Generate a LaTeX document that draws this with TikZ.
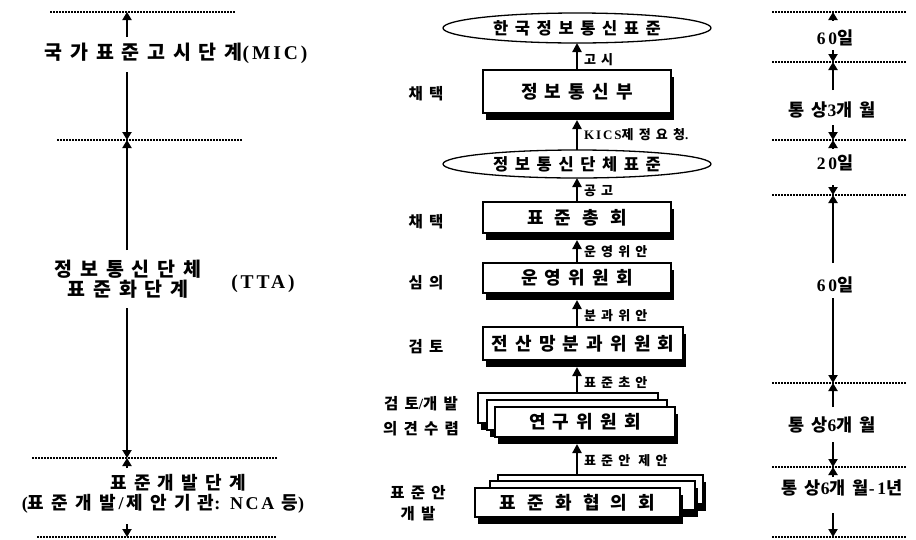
\documentclass[tikz,border=0pt]{standalone}
\usepackage{fontspec}
\setmainfont{Liberation Serif}
\newfontfamily\kr{Noto Sans CJK KR}[LetterSpace=40]
\newfontfamily\krw{Noto Sans CJK KR}[LetterSpace=62]
\newfontfamily\krn{Noto Sans CJK KR}[LetterSpace=10]
\newfontfamily\lt{Liberation Serif}[LetterSpace=15]
\usetikzlibrary{arrows.meta,shadows,shapes.geometric}
\begin{document}
\begin{tikzpicture}[x=1pt,y=-1pt,
  every node/.style={inner sep=0pt,outer sep=0pt},
  dotline/.style={line width=1.8pt,dash pattern=on 1.5pt off 1.5pt},
  dim/.style={line width=2pt,-{Triangle[length=8pt,width=9pt]}},
  flow/.style={line width=2.3pt,-{Triangle[length=9pt,width=9pt]}},
  boxst/.style={draw,line width=1.4pt,fill=white,minimum height=#1,
    drop shadow={shadow xshift=3pt,shadow yshift=-7pt,fill=black,opacity=1}},
  ellst/.style={draw,ellipse,line width=1.3pt,fill=white,minimum width=268,minimum height=#1},
  bigtxt/.style={font=\fontsize{19.5}{21}\selectfont\bfseries},
  lowtxt/.style={font=\fontsize{18}{19}\selectfont\bfseries},
  boxtxt/.style={font=\fontsize{18}{19}\selectfont\bfseries},
  elltxt/.style={font=\fontsize{16.5}{18}\selectfont\bfseries},
  sidetxt/.style={font=\fontsize{15.5}{17}\selectfont\bfseries,align=center},
  flowlab/.style={font=\fontsize{13}{14}\selectfont\bfseries,anchor=west},
  rtxt/.style={font=\fontsize{17.5}{19}\selectfont\bfseries}
]
\useasboundingbox (0,0) rectangle (916,539);

% ---------------- left column ----------------
\coordinate (l1w) at (50,12);  \coordinate (l1e) at (235,12);
\coordinate (l2w) at (57,140); \coordinate (l2e) at (243,140);
\coordinate (l3w) at (32,458); \coordinate (l3e) at (277,458);
\coordinate (l4w) at (37,537); \coordinate (l4e) at (277,537);
\foreach \n in {l1,l2,l3,l4} \draw[dotline] (\n w) -- (\n e);

\node[bigtxt] (t1) at (176,53) {{\kr 국가표준고시단계}{\lt (MIC)}};
\node[bigtxt,align=center] (t2) at (128,279) {{\kr 정보통신단체}\\[-1pt]{\kr 표준화단계}};
\node[bigtxt] (t2b) at (263,284) {{\lt (TTA)}};
\node[lowtxt] (t3) at (178,483) {{\kr 표준개발단계}};
\node[lowtxt] (t3b) at (163,504) {{\lt (}{\kr 표준개발}{\lt\,/\,}{\kr 제안기관}{\lt : NCA }{\kr 등}{\lt )}};

\coordinate (la1) at (127,37);  \coordinate (la1t) at (127,12);
\coordinate (la2) at (127,72);  \coordinate (la2t) at (127,140);
\coordinate (la3) at (127,250); \coordinate (la3t) at (127,140);
\coordinate (la4) at (127,308); \coordinate (la4t) at (127,458);
\coordinate (la5) at (127,468); \coordinate (la5t) at (127,458);
\coordinate (la6) at (127,524); \coordinate (la6t) at (127,537);
\foreach \n in {la1,la2,la3,la4,la5,la6} \draw[dim] (\n) -- (\n t);

% ---------------- right column ----------------
\coordinate (r1w) at (772,12);  \coordinate (r1e) at (907,12);
\coordinate (r2w) at (772,62);  \coordinate (r2e) at (907,62);
\coordinate (r3w) at (772,140); \coordinate (r3e) at (907,140);
\coordinate (r4w) at (772,195); \coordinate (r4e) at (907,195);
\coordinate (r5w) at (772,383); \coordinate (r5e) at (907,383);
\coordinate (r6w) at (772,467); \coordinate (r6e) at (907,467);
\coordinate (r7w) at (772,537); \coordinate (r7e) at (907,537);
\foreach \n in {r1,r2,r3,r4,r5,r6,r7} \draw[dotline] (\n w) -- (\n e);

\node[rtxt] (s1) at (835,38) {{\lt 60}{\krn 일}};
\node[rtxt] (s2) at (832,110) {{\kr 통상}{\lt 3}{\kr 개월}};
\node[rtxt] (s3) at (835,163) {{\lt 20}{\krn 일}};
\node[rtxt] (s4) at (835,285) {{\lt 60}{\krn 일}};
\node[rtxt] (s5) at (832,425) {{\kr 통상}{\lt 6}{\kr 개월}};
\node[rtxt] (s6) at (842,488) {{\kr 통상}{\lt 6}{\kr 개월}{\lt -1}{\krn 년}};

\coordinate (ra1) at (833,20);  \coordinate (ra1t) at (833,12);
\coordinate (ra2) at (833,50);  \coordinate (ra2t) at (833,62);
\coordinate (ra3) at (833,90);  \coordinate (ra3t) at (833,62);
\coordinate (ra4) at (833,125); \coordinate (ra4t) at (833,140);
\coordinate (ra5) at (833,149); \coordinate (ra5t) at (833,140);
\coordinate (ra6) at (833,185); \coordinate (ra6t) at (833,195);
\coordinate (ra7) at (833,263); \coordinate (ra7t) at (833,195);
\coordinate (ra8) at (833,298); \coordinate (ra8t) at (833,383);
\coordinate (ra9) at (833,407); \coordinate (ra9t) at (833,383);
\coordinate (ra10) at (833,442); \coordinate (ra10t) at (833,467);
\coordinate (ra11) at (833,477); \coordinate (ra11t) at (833,467);
\coordinate (ra12) at (833,513); \coordinate (ra12t) at (833,537);
\foreach \n in {ra1,ra2,ra3,ra4,ra5,ra6,ra7,ra8,ra9,ra10,ra11,ra12} \draw[dim] (\n) -- (\n t);

% ---------------- centre column ----------------
\node[ellst=30,elltxt] (e1) at (577,28) {{\kr 한국정보통신표준}};
\node[boxst=43,minimum width=188,boxtxt] (b1) at (577,91.5) {{\kr 정보통신부}};
\node[ellst=28,elltxt] (e2) at (577,164) {{\kr 정보통신단체표준}};
\node[boxst=31,minimum width=188,boxtxt] (b2) at (577,217.5) {{\krw 표준총회}};
\node[boxst=30,minimum width=188,boxtxt] (b3) at (577,278) {{\kr 운영위원회}};
\node[boxst=33,minimum width=200,boxtxt] (b4) at (583,343.5) {{\kr 전산망분과위원회}};
% stacked research committee
\node[boxst=30,minimum width=180] (b5c) at (568,408) {};
\node[boxst=30,minimum width=180] (b5b) at (577,415) {};
\node[boxst=30,minimum width=180,boxtxt] (b5) at (585,422) {{\kr 연구위원회}};
% stacked consultation body
\node[boxst=29,minimum width=205] (b6c) at (600.5,489.5) {};
\node[boxst=29,minimum width=205] (b6b) at (592.5,495.5) {};
\node[boxst=29,minimum width=205,boxtxt] (b6) at (577.5,502.5) {{\krw 표준화협의회}};

\node[sidetxt] (c1) at (426,94) {{\kr 채택}};
\node[sidetxt] (c2) at (426,222) {{\kr 채택}};
\node[sidetxt] (c3) at (426,283) {{\kr 심의}};
\node[sidetxt] (c4) at (426,347) {{\kr 검토}};
\node[sidetxt,font=\fontsize{15.5}{25}\selectfont\bfseries] (c5) at (421,416) {{\kr 검토}{\lt /}{\kr 개발}\\{\kr 의견수렴}};
\node[sidetxt,font=\fontsize{15.5}{21}\selectfont\bfseries] (c6) at (418,503) {{\kr 표준안}\\{\kr 개발}};

\coordinate (b1s) at ([yshift=-7pt]b1.south);
\coordinate (b2s) at ([yshift=-7pt]b2.south);
\coordinate (b3s) at ([yshift=-7pt]b3.south);
\coordinate (b4s) at ([yshift=-7pt]b4.south);
\coordinate (b5s) at ([yshift=-7pt]b5.south);

\draw[flow] (b1.north) -- (e1.south);
\draw[flow] (e2.north) -- (b1s);
\draw[flow] (b2.north) -- (e2.south);
\draw[flow] (b3.north) -- (b2s);
\draw[flow] (b4.north -| b3.north) -- (b3s);
\draw[flow] (b5c.north -| b3.north) -- (b4s -| b3.north);
\draw[flow] (b6c.north -| b3.north) -- (b5s -| b3.north);

\node[flowlab] (f1) at (584,60) {{\kr 고시}};
\node[flowlab] (f2) at (584,135) {{\lt KICS}{\kr 제정요청}{\lt .}};
\node[flowlab] (f3) at (584,191) {{\kr 공고}};
\node[flowlab] (f4) at (584,252) {{\kr 운영위안}};
\node[flowlab] (f5) at (584,316) {{\kr 분과위안}};
\node[flowlab] (f6) at (584,383) {{\kr 표준초안}};
\node[flowlab] (f7) at (584,461) {{\kr 표준안 제안}};
\end{tikzpicture}
\end{document}
